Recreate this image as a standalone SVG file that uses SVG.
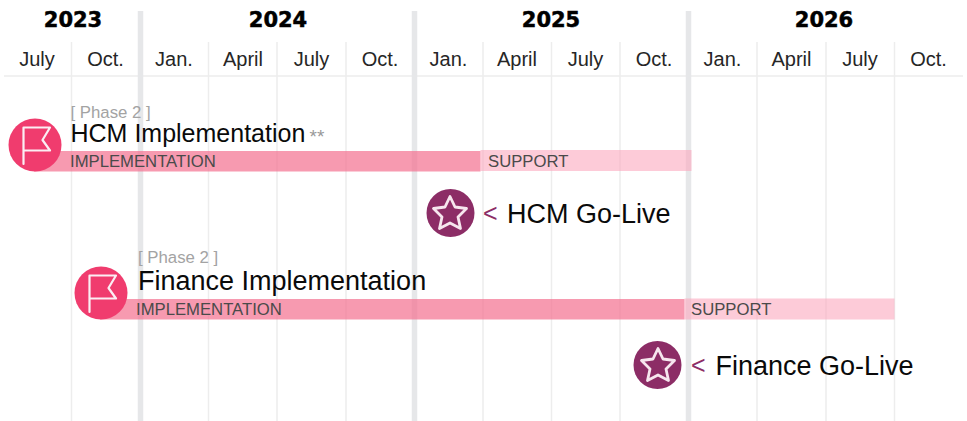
<svg xmlns="http://www.w3.org/2000/svg" width="967" height="421" viewBox="0 0 967 421">
<style>
text{font-family:"Liberation Sans",Arial,sans-serif}
.y{font-family:"DejaVu Sans","Liberation Sans",sans-serif;font-size:21px;font-weight:bold;fill:#000;stroke:#000;stroke-width:.5;text-anchor:middle}
.m{font-size:20px;fill:#262626;text-anchor:middle}
.g{stroke:#ededed;stroke-width:1.5;fill:none}
.t{stroke:#e6e7e9;stroke-width:5.5;fill:none}
.p{font-size:16.800px;fill:#a3a3a3}
.l{font-size:16.700px;fill:#4a4a4a}
.c{font-size:25px;fill:#8c2d66}
.impl{fill:#f36f8f;fill-opacity:.7}
.sup{fill:#fba8be;fill-opacity:.6}
.fl{fill:#f03c6e}
.st{fill:#8c2d66}
.ic{fill:none;stroke:#fbeef3;stroke-width:2.200;stroke-linejoin:round;stroke-linecap:round}
.si{fill:none;stroke:#f6e6ee;stroke-width:2.800;stroke-linejoin:round}
</style>
<defs>
<g id="flag"><path class="ic" d="M-9.500 19V-17.500H17L9.500 -5L17 5.500H-9.500"/></g>
<path id="star" class="si" d="M0 -17L5 -6.500L16.500 -5L8 3.500L10.500 15L0 9.500L-10.500 15L-8 3.500L-16.500 -5L-5 -6.500Z"/>
</defs>
<g id="grid">
<path class="g" d="M4 76H963M71.500 42V421M208.500 42V421M277 42V421M346 42V421M483 42V421M551.500 42V421M620 42V421M757 42V421M826 42V421M894.500 42V421"/>
<path class="t" d="M140.500 11V421M414.500 11V421M688.500 11V421"/>
</g>
<g id="years">
<text class="y" x="73" y="27">2023</text><text class="y" x="278" y="27">2024</text><text class="y" x="551" y="27">2025</text><text class="y" x="824" y="27">2026</text>
</g>
<g id="months">
<text class="m" x="37" y="66">July</text><text class="m" x="105.500" y="66">Oct.</text><text class="m" x="174" y="66">Jan.</text><text class="m" x="243" y="66">April</text><text class="m" x="311.500" y="66">July</text><text class="m" x="380" y="66">Oct.</text><text class="m" x="448.500" y="66">Jan.</text><text class="m" x="517" y="66">April</text><text class="m" x="585.500" y="66">July</text><text class="m" x="654" y="66">Oct.</text><text class="m" x="722.500" y="66">Jan.</text><text class="m" x="791.500" y="66">April</text><text class="m" x="860" y="66">July</text><text class="m" x="928.500" y="66">Oct.</text>
</g>
<g id="connectors"></g>
<g id="hcm-impl">
<rect class="impl" x="34" y="151" width="446.500" height="20.500"/>
<rect class="sup" x="480.500" y="150" width="211" height="21"/>
<text class="l" x="70" y="167">IMPLEMENTATION</text>
<text class="l" x="488" y="167">SUPPORT</text>
<circle class="fl" cx="35" cy="145" r="26.500"/>
<use href="#flag" transform="translate(33 145)"/>
<text class="p" x="70.500" y="118">[ Phase 2 ]</text>
<text x="70.500" y="142" font-size="25" fill="#0a0a0a">HCM Implementation</text>
<text x="309.500" y="143" font-size="19" fill="#999">**</text>
</g>
<g id="hcm-golive">
<circle class="st" cx="450.500" cy="213" r="24"/>
<use href="#star" transform="translate(450 213.500)"/>
<text class="c" x="483" y="222">&lt;</text>
<text x="507" y="223" font-size="27" fill="#0a0a0a">HCM Go-Live</text>
</g>
<g id="finance-impl">
<rect class="impl" x="100" y="299" width="584.500" height="20.500"/>
<rect class="sup" x="684.500" y="298.500" width="210" height="21"/>
<text class="l" x="136" y="315">IMPLEMENTATION</text>
<text class="l" x="691" y="315">SUPPORT</text>
<circle class="fl" cx="101" cy="293" r="26.500"/>
<use href="#flag" transform="translate(99 293)"/>
<text class="p" x="138" y="263">[ Phase 2 ]</text>
<text x="138" y="290" font-size="27" fill="#0a0a0a">Finance Implementation</text>
</g>
<g id="finance-golive">
<circle class="st" cx="657.500" cy="365" r="24"/>
<use href="#star" transform="translate(658 365.500)"/>
<text class="c" x="691" y="374">&lt;</text>
<text x="715.500" y="375" font-size="27" fill="#0a0a0a">Finance Go-Live</text>
</g>
</svg>
